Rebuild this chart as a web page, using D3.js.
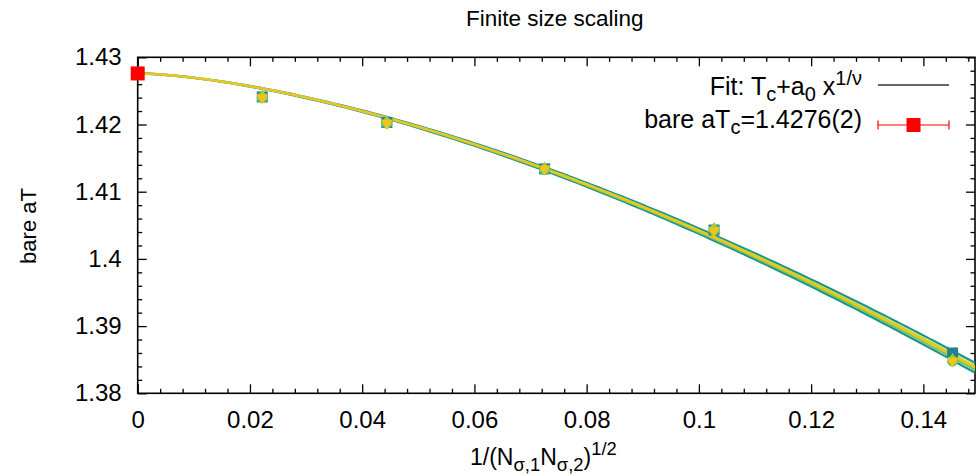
<!doctype html>
<html>
<head>
	<meta charset="utf-8">
	<style>
		body{margin:0;background:#fff;}
		svg text{font-family:"Liberation Sans",Arial,sans-serif;fill:#000;}
	</style>
</head>
<body>
	<div id="chart"></div>
	<script src="https://d3js.org/d3.v7.min.js"></script>
	<script>

		// measured points (x = 1/sqrt(Ns1*Ns2))
		var xPts = [0.0222, 0.0444, 0.0725, 0.1027, 0.1452];
		var ySquare = [1.4241, 1.4203, 1.4134, 1.4043, 1.3860];
		var yCircle = [1.4240, 1.4202, 1.4133, 1.4043, 1.3848];
		var yTriUp = [1.4242, 1.4204, 1.4135, 1.4045, 1.3850];
		var yTriDown = [1.4240, 1.4202, 1.4134, 1.4042, 1.3848];

		// extrapolated value
		var tcX = 0, tcY = 1.4276, tcErr = 0.0002;

		// fit curves  Tc + a0 x^(1/nu)
		var fitTc = [1.42762, 1.42758, 1.42760, 1.42760, 1.42760];
		var fitA0 = [0.838, 0.866, 0.858, 0.847, 0.852];
		var fitInvNu = [1.56, 1.56, 1.56, 1.56, 1.56];
		var fitColors = ['#21918c', '#21918c', '#5ec962', '#b8de29', '#f3c220'];

		var xTicks = [0, 0.02, 0.04, 0.06, 0.08, 0.1, 0.12, 0.14];
		var yTicks = [1.38, 1.39, 1.4, 1.41, 1.42, 1.43];

		var W = 976, H = 476;
		var L = 137.7, R = 975, T = 57.3, B = 393.3;
		var FS = 24, FS_KEY = 25, FS_TITLE = 22.5;

		var x = d3.scaleLinear().domain([0, 0.1492]).range([L, R]);
		var y = d3.scaleLinear().domain([1.38, 1.43]).range([B, T]);

		var svg = d3.select('#chart').append('svg')
			.attr('width', W)
			.attr('height', H);

		var fmt = d3.format('.2~f');
		var xMinor = d3.range(0, 0.1501, 0.004).filter(function(d){ return Math.abs(d/0.02 - Math.round(d/0.02)) > 1e-6; });
		var yMinor = d3.range(1.38, 1.4301, 0.002).filter(function(d){ return Math.abs((d-1.38)/0.01 - Math.round((d-1.38)/0.01)) > 1e-6; });

		function axisStyle(g){
			g.select('.domain').remove();
			g.selectAll('line').attr('stroke', '#000').attr('stroke-width', 1.3);
			g.selectAll('text').attr('font-size', FS).attr('font-family', '"Liberation Sans",Arial,sans-serif').attr('fill', '#000');
		}

		// bottom
		svg.append('g').attr('transform', 'translate(0,' + B + ')')
			.call(d3.axisBottom(x).tickValues(xTicks).tickFormat(fmt).tickSize(-9).tickPadding(17.5))
			.call(axisStyle);
		svg.append('g').attr('transform', 'translate(0,' + B + ')')
			.call(d3.axisBottom(x).tickValues(xMinor).tickFormat('').tickSize(-4.5))
			.call(axisStyle);
		// top
		svg.append('g').attr('transform', 'translate(0,' + T + ')')
			.call(d3.axisTop(x).tickValues(xTicks).tickFormat('').tickSize(-9))
			.call(axisStyle);
		svg.append('g').attr('transform', 'translate(0,' + T + ')')
			.call(d3.axisTop(x).tickValues(xMinor).tickFormat('').tickSize(-4.5))
			.call(axisStyle);
		// left
		svg.append('g').attr('transform', 'translate(' + L + ',0)')
			.call(d3.axisLeft(y).tickValues(yTicks).tickFormat(fmt).tickSize(-9).tickPadding(16))
			.call(axisStyle);
		svg.append('g').attr('transform', 'translate(' + L + ',0)')
			.call(d3.axisLeft(y).tickValues(yMinor).tickFormat('').tickSize(-4.5))
			.call(axisStyle);
		// right
		svg.append('g').attr('transform', 'translate(' + R + ',0)')
			.call(d3.axisRight(y).tickValues(yTicks).tickFormat('').tickSize(-9))
			.call(axisStyle);
		svg.append('g').attr('transform', 'translate(' + R + ',0)')
			.call(d3.axisRight(y).tickValues(yMinor).tickFormat('').tickSize(-4.5))
			.call(axisStyle);

		svg.append('rect')
			.attr('x', L).attr('y', T)
			.attr('width', R - L).attr('height', B - T)
			.attr('fill', 'none').attr('stroke', '#000').attr('stroke-width', 1.6);

		svg.append('clipPath').attr('id', 'clip')
			.append('rect').attr('x', L).attr('y', T).attr('width', R - L).attr('height', B - T);

		var plot = svg.append('g').attr('clip-path', 'url(#clip)');

		// fit curves
		var xs = d3.range(0, 0.1501, 0.001);
		fitTc.forEach(function(tc, i){
			var line = d3.line()
				.x(function(d){ return x(d); })
				.y(function(d){ return y(tc - fitA0[i] * Math.pow(d, fitInvNu[i])); });
			plot.append('path')
				.datum(xs)
				.attr('d', line)
				.attr('fill', 'none')
				.attr('stroke', fitColors[i])
				.attr('stroke-width', 2.2);
		});

		// markers
		var pts = plot.append('g');
		pts.selectAll('rect.sq').data(xPts).enter().append('rect')
			.attr('x', function(d){ return x(d) - 5.5; })
			.attr('y', function(d, i){ return y(ySquare[i]) - 5.5; })
			.attr('width', 11).attr('height', 11)
			.attr('fill', '#277f8e');
		pts.selectAll('circle').data(xPts).enter().append('circle')
			.attr('cx', function(d){ return x(d); })
			.attr('cy', function(d, i){ return y(yCircle[i]); })
			.attr('r', 5.5)
			.attr('fill', '#5ec962');
		var sym = d3.symbol().type(d3.symbolTriangle).size(60);
		pts.selectAll('path.up').data(xPts).enter().append('path')
			.attr('d', sym)
			.attr('transform', function(d, i){ return 'translate(' + x(d) + ',' + y(yTriUp[i]) + ')'; })
			.attr('fill', '#9ad03a');
		pts.selectAll('path.down').data(xPts).enter().append('path')
			.attr('d', sym)
			.attr('transform', function(d, i){ return 'translate(' + x(d) + ',' + y(yTriDown[i]) + ') rotate(180)'; })
			.attr('fill', '#f3c220');

		// Tc point
		svg.append('line')
			.attr('x1', x(tcX)).attr('x2', x(tcX))
			.attr('y1', y(tcY - tcErr)).attr('y2', y(tcY + tcErr))
			.attr('stroke', '#ff0000').attr('stroke-width', 1.2);
		svg.append('rect')
			.attr('x', x(tcX) - 7).attr('y', y(tcY) - 7)
			.attr('width', 14).attr('height', 14)
			.attr('fill', '#ff0000');

		// legend
		var lg = svg.append('g');
		var t1 = lg.append('text').attr('x', 862).attr('y', 95).attr('text-anchor', 'end').attr('font-size', FS_KEY);
		t1.append('tspan').text('Fit: T');
		t1.append('tspan').attr('dy', 6).attr('font-size', FS_KEY * 0.8).text('c');
		t1.append('tspan').attr('dy', -6).text('+a');
		t1.append('tspan').attr('dy', 6).attr('font-size', FS_KEY * 0.8).text('0');
		t1.append('tspan').attr('dy', -6).text(' x');
		t1.append('tspan').attr('dy', -10).attr('font-size', FS_KEY * 0.8).text('1/ν');
		lg.append('line').attr('x1', 878).attr('x2', 949).attr('y1', 85).attr('y2', 85)
			.attr('stroke', '#333').attr('stroke-width', 1.6);

		var t2 = lg.append('text').attr('x', 862).attr('y', 128).attr('text-anchor', 'end').attr('font-size', FS_KEY);
		t2.append('tspan').text('bare aT');
		t2.append('tspan').attr('dy', 6).attr('font-size', FS_KEY * 0.8).text('c');
		t2.append('tspan').attr('dy', -6).text('=1.4276(2)');
		lg.append('line').attr('x1', 878).attr('x2', 949).attr('y1', 125).attr('y2', 125)
			.attr('stroke', '#ff0000').attr('stroke-width', 1.2);
		[878, 949].forEach(function(cx){
			lg.append('line').attr('x1', cx).attr('x2', cx).attr('y1', 120.5).attr('y2', 129.5)
				.attr('stroke', '#ff0000').attr('stroke-width', 1.2);
		});
		lg.append('rect').attr('x', 913.5 - 7).attr('y', 125 - 7).attr('width', 14).attr('height', 14).attr('fill', '#ff0000');

		// titles
		svg.append('text').attr('x', (L + 972) / 2).attr('y', 26)
			.attr('text-anchor', 'middle').attr('font-size', FS_TITLE)
			.text('Finite size scaling');

		svg.append('text')
			.attr('transform', 'translate(36,226) rotate(-90)')
			.attr('text-anchor', 'middle').attr('font-size', 22)
			.text('bare aT');

		var xl = svg.append('text').attr('x', 470).attr('y', 465).attr('font-size', 23);
		xl.append('tspan').text('1/(N');
		xl.append('tspan').attr('dy', 6).attr('font-size', 23 * 0.8).text('σ,1');
		xl.append('tspan').attr('dy', -6).text('N');
		xl.append('tspan').attr('dy', 6).attr('font-size', 23 * 0.8).text('σ,2');
		xl.append('tspan').attr('dy', -6).text(')');
		xl.append('tspan').attr('dy', -10).attr('font-size', 23 * 0.8).text('1/2');
	</script>
</body>
</html>
